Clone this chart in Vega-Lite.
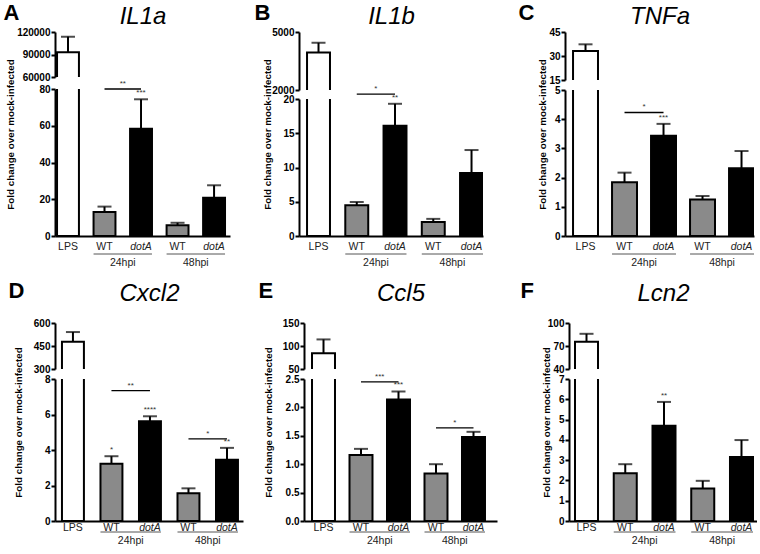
{
  "$schema": "https://vega.github.io/schema/vega-lite/v6.json",
  "background": "white",
  "padding": {"left": 3, "top": 1, "right": 0, "bottom": 0},
  "config": {"view": {"stroke": null}, "axis": {"grid": false}, "axisY": {"labelOverlap": false, "tickCount": 20}, "font": "Liberation Sans"},
  "datasets": {
    "bars": [
      {"panel": "A", "cond": "LPS", "strain": "LPS", "mean": 93100, "upper": 113800, "sig": ""},
      {"panel": "A", "cond": "WT|24hpi", "strain": "WT", "mean": 13.1, "upper": 16.0, "sig": ""},
      {"panel": "A", "cond": "dotA|24hpi", "strain": "dotA", "mean": 58.4, "upper": 74.4, "sig": "***"},
      {"panel": "A", "cond": "WT|48hpi", "strain": "WT", "mean": 5.8, "upper": 7.2, "sig": ""},
      {"panel": "A", "cond": "dotA|48hpi", "strain": "dotA", "mean": 20.8, "upper": 27.6, "sig": ""},
      {"panel": "B", "cond": "LPS", "strain": "LPS", "mean": 3945, "upper": 4444, "sig": ""},
      {"panel": "B", "cond": "WT|24hpi", "strain": "WT", "mean": 4.5, "upper": 4.96, "sig": ""},
      {"panel": "B", "cond": "dotA|24hpi", "strain": "dotA", "mean": 16.1, "upper": 19.3, "sig": "**"},
      {"panel": "B", "cond": "WT|48hpi", "strain": "WT", "mean": 2.04, "upper": 2.5, "sig": ""},
      {"panel": "B", "cond": "dotA|48hpi", "strain": "dotA", "mean": 9.2, "upper": 12.55, "sig": ""},
      {"panel": "C", "cond": "LPS", "strain": "LPS", "mean": 33.1, "upper": 37.3, "sig": ""},
      {"panel": "C", "cond": "WT|24hpi", "strain": "WT", "mean": 1.84, "upper": 2.17, "sig": ""},
      {"panel": "C", "cond": "dotA|24hpi", "strain": "dotA", "mean": 3.43, "upper": 3.84, "sig": "***"},
      {"panel": "C", "cond": "WT|48hpi", "strain": "WT", "mean": 1.25, "upper": 1.37, "sig": ""},
      {"panel": "C", "cond": "dotA|48hpi", "strain": "dotA", "mean": 2.32, "upper": 2.91, "sig": ""},
      {"panel": "D", "cond": "LPS", "strain": "LPS", "mean": 478, "upper": 541, "sig": ""},
      {"panel": "D", "cond": "WT|24hpi", "strain": "WT", "mean": 3.22, "upper": 3.65, "sig": "*"},
      {"panel": "D", "cond": "dotA|24hpi", "strain": "dotA", "mean": 5.62, "upper": 5.9, "sig": "****"},
      {"panel": "D", "cond": "WT|48hpi", "strain": "WT", "mean": 1.57, "upper": 1.84, "sig": ""},
      {"panel": "D", "cond": "dotA|48hpi", "strain": "dotA", "mean": 3.45, "upper": 4.12, "sig": "**"},
      {"panel": "E", "cond": "LPS", "strain": "LPS", "mean": 84.3, "upper": 114.3, "sig": ""},
      {"panel": "E", "cond": "WT|24hpi", "strain": "WT", "mean": 1.16, "upper": 1.27, "sig": ""},
      {"panel": "E", "cond": "dotA|24hpi", "strain": "dotA", "mean": 2.14, "upper": 2.28, "sig": "***"},
      {"panel": "E", "cond": "WT|48hpi", "strain": "WT", "mean": 0.835, "upper": 1.0, "sig": ""},
      {"panel": "E", "cond": "dotA|48hpi", "strain": "dotA", "mean": 1.48, "upper": 1.57, "sig": ""},
      {"panel": "F", "cond": "LPS", "strain": "LPS", "mean": 75.6, "upper": 85.9, "sig": ""},
      {"panel": "F", "cond": "WT|24hpi", "strain": "WT", "mean": 2.36, "upper": 2.8, "sig": ""},
      {"panel": "F", "cond": "dotA|24hpi", "strain": "dotA", "mean": 4.7, "upper": 5.87, "sig": "**"},
      {"panel": "F", "cond": "WT|48hpi", "strain": "WT", "mean": 1.6, "upper": 1.98, "sig": ""},
      {"panel": "F", "cond": "dotA|48hpi", "strain": "dotA", "mean": 3.15, "upper": 3.99, "sig": ""}
    ],
    "brackets": [
      {"panel": "A", "from": "WT|24hpi", "to": "dotA|24hpi", "y": 80, "label": "**"},
      {"panel": "B", "from": "WT|24hpi", "to": "dotA|24hpi", "y": 20.7, "label": "*"},
      {"panel": "C", "from": "WT|24hpi", "to": "dotA|24hpi", "y": 4.23, "label": "*"},
      {"panel": "D", "from": "WT|24hpi", "to": "dotA|24hpi", "y": 7.34, "label": "**"},
      {"panel": "D", "from": "WT|48hpi", "to": "dotA|48hpi", "y": 4.63, "label": "*"},
      {"panel": "E", "from": "WT|24hpi", "to": "dotA|24hpi", "y": 2.45, "label": "***"},
      {"panel": "E", "from": "WT|48hpi", "to": "dotA|48hpi", "y": 1.64, "label": "*"}
    ],
    "groups": [
      {"g": "24hpi", "from": "WT|24hpi", "to": "dotA|24hpi"},
      {"g": "48hpi", "from": "WT|48hpi", "to": "dotA|48hpi"}
    ]
  },
  "spacing": 10,
  "vconcat": [
    {
      "spacing": 24,
      "hconcat": [
        {
          "bounds": "flush", "spacing": 12,
          "vconcat": [
            {
              "width": 175, "height": 45,
              "data": {"name": "bars"},
              "transform": [{"filter": "datum.panel == 'A' && datum.strain == 'LPS'"}],
              "encoding": {"x": {"field": "cond", "type": "nominal", "scale": {"domain": ["LPS", "WT|24hpi", "dotA|24hpi", "WT|48hpi", "dotA|48hpi"], "paddingInner": 0.4, "paddingOuter": 0.096, "align": 0.29},
                "axis": {"orient": "top", "title": "IL1a", "labels": false, "ticks": false, "domain": false, "minExtent": 0, "maxExtent": 0, "titleY": -9, "titleBaseline": "alphabetic", "titleFont": "Liberation Sans", "titleFontSize": 24, "titleFontStyle": "italic", "titleFontWeight": "normal", "titleColor": "black"}}},
              "layer": [
                {"mark": {"type": "bar", "fill": "white", "stroke": "black", "strokeWidth": 2, "clip": true},
                 "encoding": {"y": {"field": "mean", "type": "quantitative", "stack": null, "scale": {"domain": [60000, 120000], "nice": false, "zero": false},
                   "axis": {"title": "A", "titleAngle": 0, "titleX": -52, "titleY": -13, "titleAlign": "left", "titleBaseline": "alphabetic", "titleFont": "Liberation Sans", "titleFontSize": 22, "titleFontWeight": "bold", "titleColor": "black", "values": [60000, 90000, 120000], "format": "d", "labelOverlap": false, "tickCount": 20, "domainWidth": 2, "domainColor": "black", "tickWidth": 2, "tickColor": "black", "tickSize": 4, "labelFont": "Liberation Sans", "labelFontWeight": "bold", "labelFontSize": 10, "labelColor": "black", "labelPadding": 1}},
                   "y2": {"datum": 0}}},
                {"mark": {"type": "rule", "color": "black", "strokeWidth": 2, "clip": true}, "encoding": {"y": {"field": "mean", "type": "quantitative"}, "y2": {"field": "upper"}}},
                {"mark": {"type": "tick", "color": "black", "thickness": 2, "size": 14, "clip": true}, "encoding": {"y": {"field": "upper", "type": "quantitative"}}}
              ]
            },
            {
              "width": 175, "height": 147,
              "layer": [
                {"data": {"name": "bars"}, "transform": [{"filter": "datum.panel == 'A'"}],
                 "mark": {"type": "bar", "stroke": "black", "strokeWidth": 2, "clip": true},
                 "encoding": {
                   "x": {"field": "cond", "type": "nominal", "scale": {"domain": ["LPS", "WT|24hpi", "dotA|24hpi", "WT|48hpi", "dotA|48hpi"], "paddingInner": 0.4, "paddingOuter": 0.096, "align": 0.29},
                     "axis": {"title": null, "ticks": false, "domainWidth": 2, "domainColor": "black", "labelAngle": 0, "labelPadding": 5, "labelFont": "Liberation Sans", "labelFontSize": 10.5, "labelColor": "#222", "labelExpr": "split(datum.value, '|')[0]", "labelFontStyle": {"condition": {"test": "indexof(datum.value, 'dotA') == 0", "value": "italic"}, "value": "normal"}}},
                   "y": {"field": "mean", "type": "quantitative", "stack": null, "scale": {"domain": [0, 80], "nice": false, "zero": false},
                     "axis": {"title": "Fold change over mock-infected", "titleX": -45, "titleY": 45, "titleBaseline": "middle", "titleFont": "Liberation Sans", "titleFontSize": 9.8, "titleFontWeight": "bold", "titleColor": "black", "values": [0, 20, 40, 60, 80], "format": "d", "labelOverlap": false, "tickCount": 20, "domainWidth": 2, "domainColor": "black", "tickWidth": 2, "tickColor": "black", "tickSize": 4, "labelFont": "Liberation Sans", "labelFontWeight": "bold", "labelFontSize": 10, "labelColor": "black", "labelPadding": 1}},
                   "fill": {"field": "strain", "type": "nominal", "scale": {"domain": ["LPS", "WT", "dotA"], "range": ["white", "#8a8a8a", "black"]}, "legend": null}
                 }},
                {"data": {"name": "bars"}, "transform": [{"filter": "datum.panel == 'A'"}],
                 "mark": {"type": "rule", "color": "black", "strokeWidth": 2, "clip": true},
                 "encoding": {"x": {"field": "cond", "type": "nominal"}, "y": {"field": "mean", "type": "quantitative"}, "y2": {"field": "upper"}}},
                {"data": {"name": "bars"}, "transform": [{"filter": "datum.panel == 'A'"}],
                 "mark": {"type": "tick", "color": "black", "thickness": 2, "size": 14, "clip": true},
                 "encoding": {"x": {"field": "cond", "type": "nominal"}, "y": {"field": "upper", "type": "quantitative"}}},
                {"data": {"name": "bars"}, "transform": [{"filter": "datum.panel == 'A' && datum.sig != ''"}],
                 "mark": {"type": "text", "dy": -2, "baseline": "bottom", "fontSize": 8, "color": "#333"},
                 "encoding": {"x": {"field": "cond", "type": "nominal"}, "y": {"field": "upper", "type": "quantitative"}, "text": {"field": "sig"}}},
                {"data": {"name": "brackets"}, "transform": [{"filter": "datum.panel == 'A'"}],
                 "mark": {"type": "rule", "color": "black", "strokeWidth": 1.3},
                 "encoding": {"x": {"field": "from", "type": "nominal", "bandPosition": 0.5}, "x2": {"field": "to", "bandPosition": 0.5}, "y": {"field": "y", "type": "quantitative"}}},
                {"data": {"name": "brackets"}, "transform": [{"filter": "datum.panel == 'A'"}],
                 "mark": {"type": "text", "dy": -1, "baseline": "bottom", "fontSize": 8, "color": "#333"},
                 "encoding": {"x": {"field": "from", "type": "nominal", "bandPosition": 1.333}, "y": {"field": "y", "type": "quantitative"}, "text": {"field": "label"}}},
                {"data": {"name": "groups"},
                 "mark": {"type": "rule", "color": "#555", "strokeWidth": 1, "yOffset": 18},
                 "encoding": {"x": {"field": "from", "type": "nominal", "bandPosition": 0}, "x2": {"field": "to", "bandPosition": 1}, "y": {"datum": 0, "type": "quantitative"}}},
                {"data": {"name": "groups"},
                 "mark": {"type": "text", "dy": 27, "baseline": "middle", "fontSize": 10.5, "color": "#222"},
                 "encoding": {"x": {"field": "from", "type": "nominal", "bandPosition": 1.333}, "y": {"datum": 0, "type": "quantitative"}, "text": {"field": "g"}}}
              ]
            }
          ]
        },
        {
          "spacing": 34,
          "hconcat": [
            {
              "bounds": "flush", "spacing": 9,
              "vconcat": [
                {
                  "width": 184, "height": 58,
                  "data": {"name": "bars"},
                  "transform": [{"filter": "datum.panel == 'B' && datum.strain == 'LPS'"}],
                  "encoding": {"x": {"field": "cond", "type": "nominal", "scale": {"domain": ["LPS", "WT|24hpi", "dotA|24hpi", "WT|48hpi", "dotA|48hpi"], "paddingInner": 0.4, "paddingOuter": 0.105, "align": 1},
                    "axis": {"orient": "top", "title": "IL1b", "labels": false, "ticks": false, "domain": false, "minExtent": 0, "maxExtent": 0, "titleY": -9, "titleBaseline": "alphabetic", "titleFont": "Liberation Sans", "titleFontSize": 24, "titleFontStyle": "italic", "titleFontWeight": "normal", "titleColor": "black"}}},
                  "layer": [
                    {"mark": {"type": "bar", "fill": "white", "stroke": "black", "strokeWidth": 2, "clip": true},
                     "encoding": {"y": {"field": "mean", "type": "quantitative", "stack": null, "scale": {"domain": [2000, 5000], "nice": false, "zero": false},
                       "axis": {"title": "B", "titleAngle": 0, "titleX": -45, "titleY": -13, "titleAlign": "left", "titleBaseline": "alphabetic", "titleFont": "Liberation Sans", "titleFontSize": 22, "titleFontWeight": "bold", "titleColor": "black", "values": [2000, 5000], "format": "d", "labelOverlap": false, "tickCount": 20, "domainWidth": 2, "domainColor": "black", "tickWidth": 2, "tickColor": "black", "tickSize": 4, "labelFont": "Liberation Sans", "labelFontWeight": "bold", "labelFontSize": 10, "labelColor": "black", "labelPadding": 1}},
                       "y2": {"datum": 0}}},
                    {"mark": {"type": "rule", "color": "black", "strokeWidth": 2, "clip": true}, "encoding": {"y": {"field": "mean", "type": "quantitative"}, "y2": {"field": "upper"}}},
                    {"mark": {"type": "tick", "color": "black", "thickness": 2, "size": 14, "clip": true}, "encoding": {"y": {"field": "upper", "type": "quantitative"}}}
                  ]
                },
                {
                  "width": 184, "height": 137,
                  "layer": [
                    {"data": {"name": "bars"}, "transform": [{"filter": "datum.panel == 'B'"}],
                     "mark": {"type": "bar", "stroke": "black", "strokeWidth": 2, "clip": true},
                     "encoding": {
                       "x": {"field": "cond", "type": "nominal", "scale": {"domain": ["LPS", "WT|24hpi", "dotA|24hpi", "WT|48hpi", "dotA|48hpi"], "paddingInner": 0.4, "paddingOuter": 0.105, "align": 1},
                         "axis": {"title": null, "ticks": false, "domainWidth": 2, "domainColor": "black", "labelAngle": 0, "labelPadding": 5, "labelFont": "Liberation Sans", "labelFontSize": 10.5, "labelColor": "#222", "labelExpr": "split(datum.value, '|')[0]", "labelFontStyle": {"condition": {"test": "indexof(datum.value, 'dotA') == 0", "value": "italic"}, "value": "normal"}}},
                       "y": {"field": "mean", "type": "quantitative", "stack": null, "scale": {"domain": [0, 20], "nice": false, "zero": false},
                         "axis": {"title": "Fold change over mock-infected", "titleX": -32, "titleY": 35, "titleBaseline": "middle", "titleFont": "Liberation Sans", "titleFontSize": 9.8, "titleFontWeight": "bold", "titleColor": "black", "values": [0, 5, 10, 15, 20], "format": "d", "labelOverlap": false, "tickCount": 20, "domainWidth": 2, "domainColor": "black", "tickWidth": 2, "tickColor": "black", "tickSize": 4, "labelFont": "Liberation Sans", "labelFontWeight": "bold", "labelFontSize": 10, "labelColor": "black", "labelPadding": 1}},
                       "fill": {"field": "strain", "type": "nominal", "scale": {"domain": ["LPS", "WT", "dotA"], "range": ["white", "#8a8a8a", "black"]}, "legend": null}
                     }},
                    {"data": {"name": "bars"}, "transform": [{"filter": "datum.panel == 'B'"}],
                     "mark": {"type": "rule", "color": "black", "strokeWidth": 2, "clip": true},
                     "encoding": {"x": {"field": "cond", "type": "nominal"}, "y": {"field": "mean", "type": "quantitative"}, "y2": {"field": "upper"}}},
                    {"data": {"name": "bars"}, "transform": [{"filter": "datum.panel == 'B'"}],
                     "mark": {"type": "tick", "color": "black", "thickness": 2, "size": 14, "clip": true},
                     "encoding": {"x": {"field": "cond", "type": "nominal"}, "y": {"field": "upper", "type": "quantitative"}}},
                    {"data": {"name": "bars"}, "transform": [{"filter": "datum.panel == 'B' && datum.sig != ''"}],
                     "mark": {"type": "text", "dy": -2, "baseline": "bottom", "fontSize": 8, "color": "#333"},
                     "encoding": {"x": {"field": "cond", "type": "nominal"}, "y": {"field": "upper", "type": "quantitative"}, "text": {"field": "sig"}}},
                    {"data": {"name": "brackets"}, "transform": [{"filter": "datum.panel == 'B'"}],
                     "mark": {"type": "rule", "color": "black", "strokeWidth": 1.3},
                     "encoding": {"x": {"field": "from", "type": "nominal", "bandPosition": 0.5}, "x2": {"field": "to", "bandPosition": 0.5}, "y": {"field": "y", "type": "quantitative"}}},
                    {"data": {"name": "brackets"}, "transform": [{"filter": "datum.panel == 'B'"}],
                     "mark": {"type": "text", "dy": -1, "baseline": "bottom", "fontSize": 8, "color": "#333"},
                     "encoding": {"x": {"field": "from", "type": "nominal", "bandPosition": 1.333}, "y": {"field": "y", "type": "quantitative"}, "text": {"field": "label"}}},
                    {"data": {"name": "groups"},
                     "mark": {"type": "rule", "color": "#555", "strokeWidth": 1, "yOffset": 18},
                     "encoding": {"x": {"field": "from", "type": "nominal", "bandPosition": 0}, "x2": {"field": "to", "bandPosition": 1}, "y": {"datum": 0, "type": "quantitative"}}},
                    {"data": {"name": "groups"},
                     "mark": {"type": "text", "dy": 27, "baseline": "middle", "fontSize": 10.5, "color": "#222"},
                     "encoding": {"x": {"field": "from", "type": "nominal", "bandPosition": 1.333}, "y": {"datum": 0, "type": "quantitative"}, "text": {"field": "g"}}}
                  ]
                }
              ]
            },
            {
              "bounds": "flush", "spacing": 10,
              "vconcat": [
                {
                  "width": 189, "height": 48,
                  "data": {"name": "bars"},
                  "transform": [{"filter": "datum.panel == 'C' && datum.strain == 'LPS'"}],
                  "encoding": {"x": {"field": "cond", "type": "nominal", "scale": {"domain": ["LPS", "WT|24hpi", "dotA|24hpi", "WT|48hpi", "dotA|48hpi"], "paddingInner": 0.36, "paddingOuter": 0.103, "align": 1},
                    "axis": {"orient": "top", "title": "TNFa", "labels": false, "ticks": false, "domain": false, "minExtent": 0, "maxExtent": 0, "titleY": -9, "titleBaseline": "alphabetic", "titleFont": "Liberation Sans", "titleFontSize": 24, "titleFontStyle": "italic", "titleFontWeight": "normal", "titleColor": "black"}}},
                  "layer": [
                    {"mark": {"type": "bar", "fill": "white", "stroke": "black", "strokeWidth": 2, "clip": true},
                     "encoding": {"y": {"field": "mean", "type": "quantitative", "stack": null, "scale": {"domain": [15, 45], "nice": false, "zero": false},
                       "axis": {"title": "C", "titleAngle": 0, "titleX": -47, "titleY": -13, "titleAlign": "left", "titleBaseline": "alphabetic", "titleFont": "Liberation Sans", "titleFontSize": 22, "titleFontWeight": "bold", "titleColor": "black", "values": [15, 30, 45], "format": "d", "labelOverlap": false, "tickCount": 20, "domainWidth": 2, "domainColor": "black", "tickWidth": 2, "tickColor": "black", "tickSize": 4, "labelFont": "Liberation Sans", "labelFontWeight": "bold", "labelFontSize": 10, "labelColor": "black", "labelPadding": 1}},
                       "y2": {"datum": 0}}},
                    {"mark": {"type": "rule", "color": "black", "strokeWidth": 2, "clip": true}, "encoding": {"y": {"field": "mean", "type": "quantitative"}, "y2": {"field": "upper"}}},
                    {"mark": {"type": "tick", "color": "black", "thickness": 2, "size": 14, "clip": true}, "encoding": {"y": {"field": "upper", "type": "quantitative"}}}
                  ]
                },
                {
                  "width": 189, "height": 146,
                  "layer": [
                    {"data": {"name": "bars"}, "transform": [{"filter": "datum.panel == 'C'"}],
                     "mark": {"type": "bar", "stroke": "black", "strokeWidth": 2, "clip": true},
                     "encoding": {
                       "x": {"field": "cond", "type": "nominal", "scale": {"domain": ["LPS", "WT|24hpi", "dotA|24hpi", "WT|48hpi", "dotA|48hpi"], "paddingInner": 0.36, "paddingOuter": 0.103, "align": 1},
                         "axis": {"title": null, "ticks": false, "domainWidth": 2, "domainColor": "black", "labelAngle": 0, "labelPadding": 5, "labelFont": "Liberation Sans", "labelFontSize": 10.5, "labelColor": "#222", "labelExpr": "split(datum.value, '|')[0]", "labelFontStyle": {"condition": {"test": "indexof(datum.value, 'dotA') == 0", "value": "italic"}, "value": "normal"}}},
                       "y": {"field": "mean", "type": "quantitative", "stack": null, "scale": {"domain": [0, 5], "nice": false, "zero": false},
                         "axis": {"title": "Fold change over mock-infected", "titleX": -23, "titleY": 44, "titleBaseline": "middle", "titleFont": "Liberation Sans", "titleFontSize": 9.8, "titleFontWeight": "bold", "titleColor": "black", "values": [0, 1, 2, 3, 4, 5], "format": "d", "labelOverlap": false, "tickCount": 20, "domainWidth": 2, "domainColor": "black", "tickWidth": 2, "tickColor": "black", "tickSize": 4, "labelFont": "Liberation Sans", "labelFontWeight": "bold", "labelFontSize": 10, "labelColor": "black", "labelPadding": 1}},
                       "fill": {"field": "strain", "type": "nominal", "scale": {"domain": ["LPS", "WT", "dotA"], "range": ["white", "#8a8a8a", "black"]}, "legend": null}
                     }},
                    {"data": {"name": "bars"}, "transform": [{"filter": "datum.panel == 'C'"}],
                     "mark": {"type": "rule", "color": "black", "strokeWidth": 2, "clip": true},
                     "encoding": {"x": {"field": "cond", "type": "nominal"}, "y": {"field": "mean", "type": "quantitative"}, "y2": {"field": "upper"}}},
                    {"data": {"name": "bars"}, "transform": [{"filter": "datum.panel == 'C'"}],
                     "mark": {"type": "tick", "color": "black", "thickness": 2, "size": 14, "clip": true},
                     "encoding": {"x": {"field": "cond", "type": "nominal"}, "y": {"field": "upper", "type": "quantitative"}}},
                    {"data": {"name": "bars"}, "transform": [{"filter": "datum.panel == 'C' && datum.sig != ''"}],
                     "mark": {"type": "text", "dy": -2, "baseline": "bottom", "fontSize": 8, "color": "#333"},
                     "encoding": {"x": {"field": "cond", "type": "nominal"}, "y": {"field": "upper", "type": "quantitative"}, "text": {"field": "sig"}}},
                    {"data": {"name": "brackets"}, "transform": [{"filter": "datum.panel == 'C'"}],
                     "mark": {"type": "rule", "color": "black", "strokeWidth": 1.3},
                     "encoding": {"x": {"field": "from", "type": "nominal", "bandPosition": 0.5}, "x2": {"field": "to", "bandPosition": 0.5}, "y": {"field": "y", "type": "quantitative"}}},
                    {"data": {"name": "brackets"}, "transform": [{"filter": "datum.panel == 'C'"}],
                     "mark": {"type": "text", "dy": -1, "baseline": "bottom", "fontSize": 8, "color": "#333"},
                     "encoding": {"x": {"field": "from", "type": "nominal", "bandPosition": 1.281}, "y": {"field": "y", "type": "quantitative"}, "text": {"field": "label"}}},
                    {"data": {"name": "groups"},
                     "mark": {"type": "rule", "color": "#555", "strokeWidth": 1, "yOffset": 18},
                     "encoding": {"x": {"field": "from", "type": "nominal", "bandPosition": 0}, "x2": {"field": "to", "bandPosition": 1}, "y": {"datum": 0, "type": "quantitative"}}},
                    {"data": {"name": "groups"},
                     "mark": {"type": "text", "dy": 27, "baseline": "middle", "fontSize": 10.5, "color": "#222"},
                     "encoding": {"x": {"field": "from", "type": "nominal", "bandPosition": 1.281}, "y": {"datum": 0, "type": "quantitative"}, "text": {"field": "g"}}}
                  ]
                }
              ]
            }
          ]
        }
      ]
    },
    {
      "spacing": 15,
      "hconcat": [
        {
          "bounds": "flush", "spacing": 10,
          "vconcat": [
            {
              "width": 188, "height": 46,
              "data": {"name": "bars"},
              "transform": [{"filter": "datum.panel == 'D' && datum.strain == 'LPS'"}],
              "encoding": {"x": {"field": "cond", "type": "nominal", "scale": {"domain": ["LPS", "WT|24hpi", "dotA|24hpi", "WT|48hpi", "dotA|48hpi"], "paddingInner": 0.43, "paddingOuter": 0.156, "align": 0.58},
                "axis": {"orient": "top", "title": "Cxcl2", "labels": false, "ticks": false, "domain": false, "minExtent": 0, "maxExtent": 0, "titleY": -23, "titleBaseline": "alphabetic", "titleFont": "Liberation Sans", "titleFontSize": 24, "titleFontStyle": "italic", "titleFontWeight": "normal", "titleColor": "black"}}},
              "layer": [
                {"mark": {"type": "bar", "fill": "white", "stroke": "black", "strokeWidth": 2, "clip": true},
                 "encoding": {"y": {"field": "mean", "type": "quantitative", "stack": null, "scale": {"domain": [300, 600], "nice": false, "zero": false},
                   "axis": {"title": "D", "titleAngle": 0, "titleX": -47, "titleY": -26, "titleAlign": "left", "titleBaseline": "alphabetic", "titleFont": "Liberation Sans", "titleFontSize": 22, "titleFontWeight": "bold", "titleColor": "black", "values": [300, 450, 600], "format": "d", "labelOverlap": false, "tickCount": 20, "domainWidth": 2, "domainColor": "black", "tickWidth": 2, "tickColor": "black", "tickSize": 4, "labelFont": "Liberation Sans", "labelFontWeight": "bold", "labelFontSize": 10, "labelColor": "black", "labelPadding": 1}},
                   "y2": {"datum": 0}}},
                {"mark": {"type": "rule", "color": "black", "strokeWidth": 2, "clip": true}, "encoding": {"y": {"field": "mean", "type": "quantitative"}, "y2": {"field": "upper"}}},
                {"mark": {"type": "tick", "color": "black", "thickness": 2, "size": 14, "clip": true}, "encoding": {"y": {"field": "upper", "type": "quantitative"}}}
              ]
            },
            {
              "width": 188, "height": 142,
              "layer": [
                {"data": {"name": "bars"}, "transform": [{"filter": "datum.panel == 'D'"}],
                 "mark": {"type": "bar", "stroke": "black", "strokeWidth": 2, "clip": true},
                 "encoding": {
                   "x": {"field": "cond", "type": "nominal", "scale": {"domain": ["LPS", "WT|24hpi", "dotA|24hpi", "WT|48hpi", "dotA|48hpi"], "paddingInner": 0.43, "paddingOuter": 0.156, "align": 0.58},
                     "axis": {"title": null, "ticks": false, "domainWidth": 2, "domainColor": "black", "labelAngle": 0, "labelPadding": 1, "labelFont": "Liberation Sans", "labelFontSize": 10.5, "labelColor": "#222", "labelExpr": "split(datum.value, '|')[0]", "labelFontStyle": {"condition": {"test": "indexof(datum.value, 'dotA') == 0", "value": "italic"}, "value": "normal"}}},
                   "y": {"field": "mean", "type": "quantitative", "stack": null, "scale": {"domain": [0, 8], "nice": false, "zero": false},
                     "axis": {"title": "Fold change over mock-infected", "titleX": -37, "titleY": 43, "titleBaseline": "middle", "titleFont": "Liberation Sans", "titleFontSize": 9.8, "titleFontWeight": "bold", "titleColor": "black", "values": [0, 2, 4, 6, 8], "format": "d", "labelOverlap": false, "tickCount": 20, "domainWidth": 2, "domainColor": "black", "tickWidth": 2, "tickColor": "black", "tickSize": 4, "labelFont": "Liberation Sans", "labelFontWeight": "bold", "labelFontSize": 10, "labelColor": "black", "labelPadding": 1}},
                   "fill": {"field": "strain", "type": "nominal", "scale": {"domain": ["LPS", "WT", "dotA"], "range": ["white", "#8a8a8a", "black"]}, "legend": null}
                 }},
                {"data": {"name": "bars"}, "transform": [{"filter": "datum.panel == 'D'"}],
                 "mark": {"type": "rule", "color": "black", "strokeWidth": 2, "clip": true},
                 "encoding": {"x": {"field": "cond", "type": "nominal"}, "y": {"field": "mean", "type": "quantitative"}, "y2": {"field": "upper"}}},
                {"data": {"name": "bars"}, "transform": [{"filter": "datum.panel == 'D'"}],
                 "mark": {"type": "tick", "color": "black", "thickness": 2, "size": 14, "clip": true},
                 "encoding": {"x": {"field": "cond", "type": "nominal"}, "y": {"field": "upper", "type": "quantitative"}}},
                {"data": {"name": "bars"}, "transform": [{"filter": "datum.panel == 'D' && datum.sig != ''"}],
                 "mark": {"type": "text", "dy": -2, "baseline": "bottom", "fontSize": 8, "color": "#333"},
                 "encoding": {"x": {"field": "cond", "type": "nominal"}, "y": {"field": "upper", "type": "quantitative"}, "text": {"field": "sig"}}},
                {"data": {"name": "brackets"}, "transform": [{"filter": "datum.panel == 'D'"}],
                 "mark": {"type": "rule", "color": "black", "strokeWidth": 1.3},
                 "encoding": {"x": {"field": "from", "type": "nominal", "bandPosition": 0.5}, "x2": {"field": "to", "bandPosition": 0.5}, "y": {"field": "y", "type": "quantitative"}}},
                {"data": {"name": "brackets"}, "transform": [{"filter": "datum.panel == 'D'"}],
                 "mark": {"type": "text", "dy": -1, "baseline": "bottom", "fontSize": 8, "color": "#333"},
                 "encoding": {"x": {"field": "from", "type": "nominal", "bandPosition": 1.377}, "y": {"field": "y", "type": "quantitative"}, "text": {"field": "label"}}},
                {"data": {"name": "groups"},
                 "mark": {"type": "rule", "color": "#555", "strokeWidth": 1, "yOffset": 11},
                 "encoding": {"x": {"field": "from", "type": "nominal", "bandPosition": 0}, "x2": {"field": "to", "bandPosition": 1}, "y": {"datum": 0, "type": "quantitative"}}},
                {"data": {"name": "groups"},
                 "mark": {"type": "text", "dy": 20, "baseline": "middle", "fontSize": 10.5, "color": "#222"},
                 "encoding": {"x": {"field": "from", "type": "nominal", "bandPosition": 1.377}, "y": {"datum": 0, "type": "quantitative"}, "text": {"field": "g"}}}
              ]
            }
          ]
        },
        {
          "spacing": 23,
          "hconcat": [
            {
              "bounds": "flush", "spacing": 10,
              "vconcat": [
                {
                  "width": 193, "height": 46,
                  "data": {"name": "bars"},
                  "transform": [{"filter": "datum.panel == 'E' && datum.strain == 'LPS'"}],
                  "encoding": {"x": {"field": "cond", "type": "nominal", "scale": {"domain": ["LPS", "WT|24hpi", "dotA|24hpi", "WT|48hpi", "dotA|48hpi"], "paddingInner": 0.387, "paddingOuter": 0.267, "align": 0.4},
                    "axis": {"orient": "top", "title": "Ccl5", "labels": false, "ticks": false, "domain": false, "minExtent": 0, "maxExtent": 0, "titleY": -23, "titleBaseline": "alphabetic", "titleFont": "Liberation Sans", "titleFontSize": 24, "titleFontStyle": "italic", "titleFontWeight": "normal", "titleColor": "black"}}},
                  "layer": [
                    {"mark": {"type": "bar", "fill": "white", "stroke": "black", "strokeWidth": 2, "clip": true},
                     "encoding": {"y": {"field": "mean", "type": "quantitative", "stack": null, "scale": {"domain": [50, 150], "nice": false, "zero": false},
                       "axis": {"title": "E", "titleAngle": 0, "titleX": -46, "titleY": -26, "titleAlign": "left", "titleBaseline": "alphabetic", "titleFont": "Liberation Sans", "titleFontSize": 22, "titleFontWeight": "bold", "titleColor": "black", "values": [50, 100, 150], "format": "d", "labelOverlap": false, "tickCount": 20, "domainWidth": 2, "domainColor": "black", "tickWidth": 2, "tickColor": "black", "tickSize": 4, "labelFont": "Liberation Sans", "labelFontWeight": "bold", "labelFontSize": 10, "labelColor": "black", "labelPadding": 1}},
                       "y2": {"datum": 0}}},
                    {"mark": {"type": "rule", "color": "black", "strokeWidth": 2, "clip": true}, "encoding": {"y": {"field": "mean", "type": "quantitative"}, "y2": {"field": "upper"}}},
                    {"mark": {"type": "tick", "color": "black", "thickness": 2, "size": 14, "clip": true}, "encoding": {"y": {"field": "upper", "type": "quantitative"}}}
                  ]
                },
                {
                  "width": 193, "height": 142,
                  "layer": [
                    {"data": {"name": "bars"}, "transform": [{"filter": "datum.panel == 'E'"}],
                     "mark": {"type": "bar", "stroke": "black", "strokeWidth": 2, "clip": true},
                     "encoding": {
                       "x": {"field": "cond", "type": "nominal", "scale": {"domain": ["LPS", "WT|24hpi", "dotA|24hpi", "WT|48hpi", "dotA|48hpi"], "paddingInner": 0.387, "paddingOuter": 0.267, "align": 0.4},
                         "axis": {"title": null, "ticks": false, "domainWidth": 2, "domainColor": "black", "labelAngle": 0, "labelPadding": 1, "labelFont": "Liberation Sans", "labelFontSize": 10.5, "labelColor": "#222", "labelExpr": "split(datum.value, '|')[0]", "labelFontStyle": {"condition": {"test": "indexof(datum.value, 'dotA') == 0", "value": "italic"}, "value": "normal"}}},
                       "y": {"field": "mean", "type": "quantitative", "stack": null, "scale": {"domain": [0, 2.5], "nice": false, "zero": false},
                         "axis": {"title": "Fold change over mock-infected", "titleX": -36, "titleY": 43, "titleBaseline": "middle", "titleFont": "Liberation Sans", "titleFontSize": 9.8, "titleFontWeight": "bold", "titleColor": "black", "values": [0, 0.5, 1, 1.5, 2, 2.5], "format": ".1f", "labelOverlap": false, "tickCount": 20, "domainWidth": 2, "domainColor": "black", "tickWidth": 2, "tickColor": "black", "tickSize": 4, "labelFont": "Liberation Sans", "labelFontWeight": "bold", "labelFontSize": 10, "labelColor": "black", "labelPadding": 1}},
                       "fill": {"field": "strain", "type": "nominal", "scale": {"domain": ["LPS", "WT", "dotA"], "range": ["white", "#8a8a8a", "black"]}, "legend": null}
                     }},
                    {"data": {"name": "bars"}, "transform": [{"filter": "datum.panel == 'E'"}],
                     "mark": {"type": "rule", "color": "black", "strokeWidth": 2, "clip": true},
                     "encoding": {"x": {"field": "cond", "type": "nominal"}, "y": {"field": "mean", "type": "quantitative"}, "y2": {"field": "upper"}}},
                    {"data": {"name": "bars"}, "transform": [{"filter": "datum.panel == 'E'"}],
                     "mark": {"type": "tick", "color": "black", "thickness": 2, "size": 14, "clip": true},
                     "encoding": {"x": {"field": "cond", "type": "nominal"}, "y": {"field": "upper", "type": "quantitative"}}},
                    {"data": {"name": "bars"}, "transform": [{"filter": "datum.panel == 'E' && datum.sig != ''"}],
                     "mark": {"type": "text", "dy": -2, "baseline": "bottom", "fontSize": 8, "color": "#333"},
                     "encoding": {"x": {"field": "cond", "type": "nominal"}, "y": {"field": "upper", "type": "quantitative"}, "text": {"field": "sig"}}},
                    {"data": {"name": "brackets"}, "transform": [{"filter": "datum.panel == 'E'"}],
                     "mark": {"type": "rule", "color": "black", "strokeWidth": 1.3},
                     "encoding": {"x": {"field": "from", "type": "nominal", "bandPosition": 0.5}, "x2": {"field": "to", "bandPosition": 0.5}, "y": {"field": "y", "type": "quantitative"}}},
                    {"data": {"name": "brackets"}, "transform": [{"filter": "datum.panel == 'E'"}],
                     "mark": {"type": "text", "dy": -1, "baseline": "bottom", "fontSize": 8, "color": "#333"},
                     "encoding": {"x": {"field": "from", "type": "nominal", "bandPosition": 1.316}, "y": {"field": "y", "type": "quantitative"}, "text": {"field": "label"}}},
                    {"data": {"name": "groups"},
                     "mark": {"type": "rule", "color": "#555", "strokeWidth": 1, "yOffset": 11},
                     "encoding": {"x": {"field": "from", "type": "nominal", "bandPosition": 0}, "x2": {"field": "to", "bandPosition": 1}, "y": {"datum": 0, "type": "quantitative"}}},
                    {"data": {"name": "groups"},
                     "mark": {"type": "text", "dy": 20, "baseline": "middle", "fontSize": 10.5, "color": "#222"},
                     "encoding": {"x": {"field": "from", "type": "nominal", "bandPosition": 1.316}, "y": {"datum": 0, "type": "quantitative"}, "text": {"field": "g"}}}
                  ]
                }
              ]
            },
            {
              "bounds": "flush", "spacing": 10,
              "vconcat": [
                {
                  "width": 188, "height": 46,
                  "data": {"name": "bars"},
                  "transform": [{"filter": "datum.panel == 'F' && datum.strain == 'LPS'"}],
                  "encoding": {"x": {"field": "cond", "type": "nominal", "scale": {"domain": ["LPS", "WT|24hpi", "dotA|24hpi", "WT|48hpi", "dotA|48hpi"], "paddingInner": 0.406, "paddingOuter": 0.129, "align": 0.6},
                    "axis": {"orient": "top", "title": "Lcn2", "labels": false, "ticks": false, "domain": false, "minExtent": 0, "maxExtent": 0, "titleY": -23, "titleBaseline": "alphabetic", "titleFont": "Liberation Sans", "titleFontSize": 24, "titleFontStyle": "italic", "titleFontWeight": "normal", "titleColor": "black"}}},
                  "layer": [
                    {"mark": {"type": "bar", "fill": "white", "stroke": "black", "strokeWidth": 2, "clip": true},
                     "encoding": {"y": {"field": "mean", "type": "quantitative", "stack": null, "scale": {"domain": [40, 100], "nice": false, "zero": false},
                       "axis": {"title": "F", "titleAngle": 0, "titleX": -49, "titleY": -26, "titleAlign": "left", "titleBaseline": "alphabetic", "titleFont": "Liberation Sans", "titleFontSize": 22, "titleFontWeight": "bold", "titleColor": "black", "values": [40, 70, 100], "format": "d", "labelOverlap": false, "tickCount": 20, "domainWidth": 2, "domainColor": "black", "tickWidth": 2, "tickColor": "black", "tickSize": 4, "labelFont": "Liberation Sans", "labelFontWeight": "bold", "labelFontSize": 10, "labelColor": "black", "labelPadding": 1}},
                       "y2": {"datum": 0}}},
                    {"mark": {"type": "rule", "color": "black", "strokeWidth": 2, "clip": true}, "encoding": {"y": {"field": "mean", "type": "quantitative"}, "y2": {"field": "upper"}}},
                    {"mark": {"type": "tick", "color": "black", "thickness": 2, "size": 14, "clip": true}, "encoding": {"y": {"field": "upper", "type": "quantitative"}}}
                  ]
                },
                {
                  "width": 188, "height": 142,
                  "layer": [
                    {"data": {"name": "bars"}, "transform": [{"filter": "datum.panel == 'F'"}],
                     "mark": {"type": "bar", "stroke": "black", "strokeWidth": 2, "clip": true},
                     "encoding": {
                       "x": {"field": "cond", "type": "nominal", "scale": {"domain": ["LPS", "WT|24hpi", "dotA|24hpi", "WT|48hpi", "dotA|48hpi"], "paddingInner": 0.406, "paddingOuter": 0.129, "align": 0.6},
                         "axis": {"title": null, "ticks": false, "domainWidth": 2, "domainColor": "black", "labelAngle": 0, "labelPadding": 1, "labelFont": "Liberation Sans", "labelFontSize": 10.5, "labelColor": "#222", "labelExpr": "split(datum.value, '|')[0]", "labelFontStyle": {"condition": {"test": "indexof(datum.value, 'dotA') == 0", "value": "italic"}, "value": "normal"}}},
                       "y": {"field": "mean", "type": "quantitative", "stack": null, "scale": {"domain": [0, 7], "nice": false, "zero": false},
                         "axis": {"title": "Fold change over mock-infected", "titleX": -23, "titleY": 43, "titleBaseline": "middle", "titleFont": "Liberation Sans", "titleFontSize": 9.8, "titleFontWeight": "bold", "titleColor": "black", "values": [0, 1, 2, 3, 4, 5, 6, 7], "format": "d", "labelOverlap": false, "tickCount": 20, "domainWidth": 2, "domainColor": "black", "tickWidth": 2, "tickColor": "black", "tickSize": 4, "labelFont": "Liberation Sans", "labelFontWeight": "bold", "labelFontSize": 10, "labelColor": "black", "labelPadding": 1}},
                       "fill": {"field": "strain", "type": "nominal", "scale": {"domain": ["LPS", "WT", "dotA"], "range": ["white", "#8a8a8a", "black"]}, "legend": null}
                     }},
                    {"data": {"name": "bars"}, "transform": [{"filter": "datum.panel == 'F'"}],
                     "mark": {"type": "rule", "color": "black", "strokeWidth": 2, "clip": true},
                     "encoding": {"x": {"field": "cond", "type": "nominal"}, "y": {"field": "mean", "type": "quantitative"}, "y2": {"field": "upper"}}},
                    {"data": {"name": "bars"}, "transform": [{"filter": "datum.panel == 'F'"}],
                     "mark": {"type": "tick", "color": "black", "thickness": 2, "size": 14, "clip": true},
                     "encoding": {"x": {"field": "cond", "type": "nominal"}, "y": {"field": "upper", "type": "quantitative"}}},
                    {"data": {"name": "bars"}, "transform": [{"filter": "datum.panel == 'F' && datum.sig != ''"}],
                     "mark": {"type": "text", "dy": -2, "baseline": "bottom", "fontSize": 8, "color": "#333"},
                     "encoding": {"x": {"field": "cond", "type": "nominal"}, "y": {"field": "upper", "type": "quantitative"}, "text": {"field": "sig"}}},
                    {"data": {"name": "groups"},
                     "mark": {"type": "rule", "color": "#555", "strokeWidth": 1, "yOffset": 11},
                     "encoding": {"x": {"field": "from", "type": "nominal", "bandPosition": 0}, "x2": {"field": "to", "bandPosition": 1}, "y": {"datum": 0, "type": "quantitative"}}},
                    {"data": {"name": "groups"},
                     "mark": {"type": "text", "dy": 20, "baseline": "middle", "fontSize": 10.5, "color": "#222"},
                     "encoding": {"x": {"field": "from", "type": "nominal", "bandPosition": 1.342}, "y": {"datum": 0, "type": "quantitative"}, "text": {"field": "g"}}}
                  ]
                }
              ]
            }
          ]
        }
      ]
    }
  ]
}
